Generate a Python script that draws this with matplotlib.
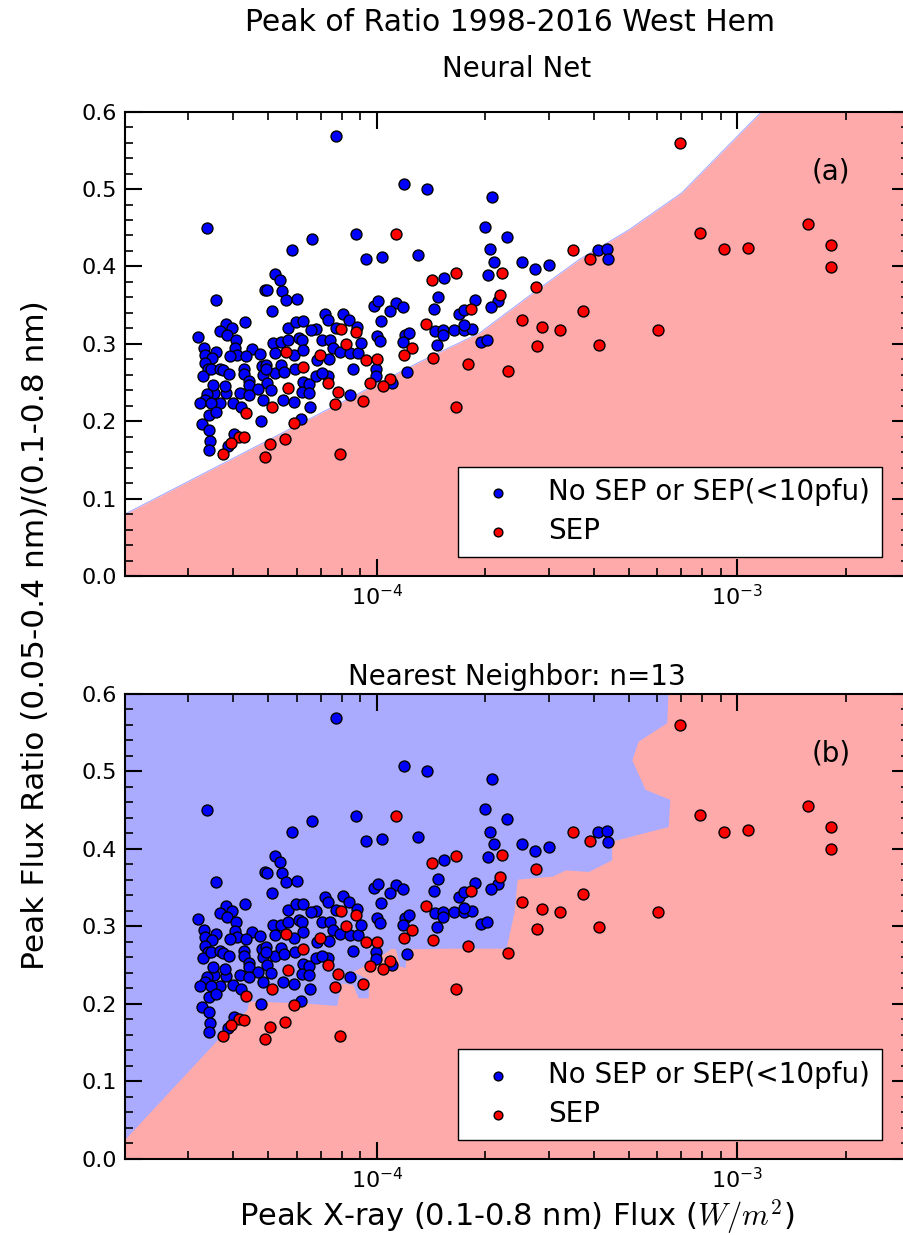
import numpy as np
import matplotlib
matplotlib.use("Agg")
import matplotlib.pyplot as plt
from matplotlib.ticker import MultipleLocator, LogLocator, FormatStrFormatter

# ── data ──────────────────────────────────────────────────────────────────────
NOSEP_FLUX = [
    7.7e-5, 3.37e-5, 6.6e-5, 8.73e-5, 5.8e-5, 5.21e-5, 5.4e-5, 4.89e-5, 4.97e-5, 5.45e-5,
    5.6e-5, 6.0e-5, 3.58e-5, 5.12e-5, 3.18e-5, 3.81e-5, 3.96e-5, 3.67e-5, 3.84e-5, 4.31e-5,
    4.07e-5, 3.32e-5, 3.33e-5, 3.58e-5, 4.03e-5, 4.08e-5, 4.49e-5, 4.74e-5, 4.32e-5, 3.92e-5,
    3.48e-5, 3.34e-5, 3.39e-5, 3.30e-5, 3.47e-5, 3.67e-5, 3.74e-5, 3.88e-5, 4.29e-5, 4.27e-5,
    4.42e-5, 4.43e-5, 4.81e-5, 4.91e-5, 4.82e-5, 4.97e-5, 5.2e-5, 5.43e-5, 5.52e-5, 5.15e-5,
    5.2e-5, 5.43e-5, 5.66e-5, 5.66e-5, 5.98e-5, 6.22e-5, 6.09e-5, 6.2e-5, 5.89e-5, 6.22e-5,
    5.93e-5, 6.22e-5, 6.2e-5, 6.5e-5, 6.48e-5, 5.9e-5, 5.48e-5, 5.1e-5, 4.82e-5, 4.69e-5,
    4.16e-5, 4.41e-5, 3.99e-5, 4.2e-5, 3.81e-5, 3.80e-5, 3.66e-5, 3.53e-5, 3.51e-5, 3.37e-5,
    3.33e-5, 3.23e-5, 3.46e-5, 3.41e-5, 3.58e-5, 3.27e-5, 3.41e-5, 3.44e-5, 3.42e-5, 4.01e-5,
    3.86e-5, 4.77e-5, 6.15e-5, 6.53e-5, 4.94e-5, 6.8e-5, 6.55e-5, 7.03e-5, 7.43e-5, 7.19e-5,
    7.33e-5, 7.69e-5, 8.06e-5, 8.37e-5, 8.8e-5, 7.57e-5, 7.92e-5, 8.4e-5, 8.84e-5, 9.03e-5,
    7.35e-5, 6.83e-5, 7.34e-5, 6.8e-5, 7.03e-5, 8.58e-5, 8.45e-5,
    1.19e-4, 1.38e-4, 2.09e-4, 2.0e-4, 2.3e-4, 2.06e-4, 9.33e-5, 1.036e-4, 1.30e-4, 2.11e-4,
    2.53e-4, 2.75e-4, 3.01e-4, 4.11e-4, 4.36e-4, 4.37e-4, 2.04e-4, 1.54e-4, 1.48e-4, 1.87e-4,
    2.17e-4, 2.08e-4, 1.44e-4, 1.69e-4, 1.75e-4, 9.79e-5, 1.01e-4, 1.13e-4, 1.18e-4, 1.09e-4,
    1.03e-4, 1.0e-4, 1.02e-4, 9.95e-5, 9.95e-5, 1.10e-4, 1.21e-4, 1.2e-4, 1.23e-4, 1.18e-4,
    1.45e-4, 1.53e-4, 1.53e-4, 1.64e-4, 1.75e-4, 1.84e-4, 1.75e-4, 1.47e-4, 1.95e-4, 2.02e-4,
]
NOSEP_RATIO = [
    0.569, 0.450, 0.436, 0.442, 0.421, 0.390, 0.383, 0.370, 0.369, 0.368,
    0.357, 0.358, 0.357, 0.343, 0.309, 0.326, 0.320, 0.317, 0.312, 0.328,
    0.305, 0.295, 0.286, 0.290, 0.294, 0.286, 0.293, 0.287, 0.284, 0.284,
    0.282, 0.275, 0.267, 0.259, 0.267, 0.268, 0.266, 0.261, 0.268, 0.261,
    0.252, 0.247, 0.271, 0.273, 0.260, 0.250, 0.262, 0.272, 0.264, 0.301,
    0.288, 0.302, 0.305, 0.321, 0.328, 0.329, 0.308, 0.305, 0.285, 0.292,
    0.267, 0.251, 0.238, 0.248, 0.237, 0.225, 0.228, 0.240, 0.228, 0.241,
    0.237, 0.234, 0.224, 0.219, 0.236, 0.245, 0.223, 0.237, 0.247, 0.235,
    0.228, 0.223, 0.223, 0.208, 0.212, 0.196, 0.189, 0.175, 0.163, 0.183,
    0.168, 0.200, 0.203, 0.219, 0.267, 0.319, 0.318, 0.305, 0.305, 0.338,
    0.331, 0.321, 0.339, 0.331, 0.322, 0.295, 0.290, 0.288, 0.288, 0.301,
    0.281, 0.279, 0.259, 0.259, 0.262, 0.268, 0.234,
    0.507, 0.500, 0.490, 0.451, 0.438, 0.422, 0.410, 0.412, 0.415, 0.406,
    0.406, 0.397, 0.402, 0.421, 0.423, 0.409, 0.389, 0.385, 0.361, 0.356,
    0.355, 0.348, 0.345, 0.338, 0.344, 0.349, 0.355, 0.353, 0.348, 0.343,
    0.330, 0.310, 0.304, 0.267, 0.258, 0.250, 0.264, 0.311, 0.314, 0.302,
    0.317, 0.318, 0.312, 0.318, 0.318, 0.319, 0.324, 0.299, 0.303, 0.305,
]
SEP_FLUX = [
    7.97e-5, 8.77e-5, 8.21e-5, 5.59e-5, 6.94e-5, 6.22e-5, 9.32e-5, 1.0e-4, 7.34e-5, 9.58e-5,
    7.8e-5, 5.68e-5, 7.65e-5, 9.13e-5, 5.12e-5, 4.32e-5, 5.9e-5, 4.14e-5, 4.27e-5, 3.93e-5,
    3.75e-5, 5.06e-5, 5.55e-5, 4.9e-5, 7.92e-5, 1.13e-4, 1.66e-4, 1.42e-4, 2.22e-4, 2.2e-4,
    1.83e-4, 3.51e-4, 3.91e-4, 2.76e-4, 3.74e-4, 2.53e-4, 2.87e-4, 3.22e-4, 2.78e-4, 4.14e-4,
    1.37e-4, 1.25e-4, 1.19e-4, 1.43e-4, 1.79e-4, 2.31e-4, 1.09e-4, 1.04e-4, 1.66e-4, 6.96e-4,
    7.89e-4, 9.21e-4, 1.074e-3, 1.57e-3, 1.82e-3, 1.82e-3, 6.03e-4,
]
SEP_RATIO = [
    0.319, 0.315, 0.300, 0.290, 0.285, 0.270, 0.279, 0.280, 0.250, 0.249,
    0.238, 0.243, 0.222, 0.226, 0.219, 0.210, 0.198, 0.180, 0.179, 0.172,
    0.158, 0.170, 0.177, 0.154, 0.158, 0.442, 0.391, 0.382, 0.392, 0.363,
    0.345, 0.421, 0.410, 0.374, 0.342, 0.331, 0.322, 0.318, 0.297, 0.299,
    0.326, 0.295, 0.285, 0.282, 0.274, 0.265, 0.255, 0.245, 0.219, 0.560,
    0.443, 0.422, 0.424, 0.455, 0.428, 0.399, 0.318,
]
# neural-net decision boundary (panel a), SEP region lies below it
NN_EDGE_FLUX = [2.0e-5, 5.07e-5, 1.32e-4, 1.93e-4, 2.65e-4, 3.65e-4, 5.0e-4, 7.02e-4, 1.17e-3, 3.0e-3]
NN_EDGE_RATIO = [0.080, 0.177, 0.277, 0.314, 0.362, 0.409, 0.447, 0.495, 0.600, 0.80]
# nearest-neighbour (n=13) decision boundary (panel b), traced left/bottom -> top
KNN_EDGE_FLUX = [
    2.0e-5, 3.69e-5, 4.38e-5, 4.42e-5, 6.41e-5, 7.76e-5, 8.0e-5, 8.6e-5, 8.9e-5, 9.5e-5,
    9.5e-5, 8.6e-5, 9.8e-5, 1.10e-4, 1.13e-4, 1.16e-4, 1.2e-4, 1.22e-4, 1.59e-4, 2.29e-4,
    2.41e-4, 2.46e-4, 3.08e-4, 3.35e-4, 3.88e-4, 4.5e-4, 4.5e-4, 6.46e-4, 6.53e-4, 5.57e-4,
    5.12e-4, 5.33e-4, 6.4e-4, 6.45e-4,
]
KNN_EDGE_RATIO = [
    0.024, 0.157, 0.192, 0.203, 0.200, 0.197, 0.226, 0.224, 0.207, 0.207,
    0.231, 0.241, 0.254, 0.271, 0.270, 0.248, 0.246, 0.270, 0.271, 0.271,
    0.317, 0.360, 0.364, 0.372, 0.370, 0.385, 0.409, 0.428, 0.463, 0.476,
    0.514, 0.538, 0.562, 0.600,
]

XMIN, XMAX = 2e-5, 3e-3
YMIN, YMAX = 0.0, 0.6
PINK, LIGHT_BLUE = "#FFAAAA", "#AAAAFF"

# ── plot ──────────────────────────────────────────────────────────────────────
plt.rcParams["font.family"] = "DejaVu Sans"
plt.rcParams["axes.unicode_minus"] = False
fig = plt.figure(figsize=(9.04, 12.35), dpi=100)
ax_a = fig.add_axes([0.1383, 0.5336, 0.8672, 0.3760])
ax_b = fig.add_axes([0.1383, 0.0618, 0.8672, 0.3765])

# panel a: white above the boundary, pink below
ax_a.fill_between(NN_EDGE_FLUX, YMIN, NN_EDGE_RATIO, color=PINK, lw=0, zorder=0)
ax_a.plot(NN_EDGE_FLUX, NN_EDGE_RATIO, color=LIGHT_BLUE, lw=0.8, zorder=0)

# panel b: blue background, pink region closed along the right/bottom edges
ax_b.set_facecolor(LIGHT_BLUE)
poly_x = KNN_EDGE_FLUX + [XMAX, XMAX, XMIN]
poly_y = KNN_EDGE_RATIO + [YMAX, YMIN, YMIN]
ax_b.fill(poly_x, poly_y, color=PINK, lw=0, zorder=0)

for ax, tag in [(ax_a, "(a)"), (ax_b, "(b)")]:
    ax.scatter(NOSEP_FLUX, NOSEP_RATIO, s=62, c="#0000FF", edgecolors="black",
               linewidths=1, zorder=3, label="No SEP or SEP(<10pfu)")
    ax.scatter(SEP_FLUX, SEP_RATIO, s=62, c="#FF0000", edgecolors="black",
               linewidths=1, zorder=3, label="SEP")
    ax.set_xscale("log")
    ax.set_xlim(XMIN, XMAX)
    ax.set_ylim(YMIN, YMAX)
    ax.yaxis.set_major_locator(MultipleLocator(0.1))
    ax.yaxis.set_minor_locator(MultipleLocator(0.02))
    ax.yaxis.set_major_formatter(FormatStrFormatter("%.1f"))
    ax.xaxis.set_minor_locator(LogLocator(subs=np.arange(2, 10)))
    ax.tick_params(which="major", direction="in", length=12, width=1.5,
                   top=True, right=True, labelsize=16, pad=6)
    ax.tick_params(which="minor", direction="in", length=6, width=1.2,
                   top=True, right=True)
    for sp in ax.spines.values():
        sp.set_linewidth(1.5)
    ax.text(0.901, 0.871, tag, transform=ax.transAxes, ha="center", va="center",
            fontsize=20)
    leg = ax.legend(loc="lower right", bbox_to_anchor=(0.9656, 0.041), borderaxespad=0,
                    fontsize=20, scatterpoints=1, markerscale=0.8, fancybox=False,
                    framealpha=1, edgecolor="black", borderpad=0.42, labelspacing=0.4,
                    handlelength=2.0, handletextpad=0.82)
    leg.get_frame().set_linewidth(1.0)

fig.text(0.564, 0.975, "Peak of Ratio 1998-2016 West Hem", ha="center",
         va="baseline", fontsize=21.5)
ax_a.text(0.5, 1 + 35 / 465, "Neural Net", transform=ax_a.transAxes,
          ha="center", va="baseline", fontsize=20)
ax_b.text(0.5, 1 + 9 / 465, "Nearest Neighbor: n=13", transform=ax_b.transAxes,
          ha="center", va="baseline", fontsize=20)
fig.text(0.572, 0.0073, r"Peak X-ray (0.1-0.8 nm) Flux ($W/m^2$)", ha="center",
         va="baseline", fontsize=22, math_fontfamily="cm")
fig.text(0.039, 0.486, "Peak Flux Ratio (0.05-0.4 nm)/(0.1-0.8 nm)", rotation=90,
         ha="center", va="center", fontsize=22.5)

fig.savefig("out.png", dpi=100)
